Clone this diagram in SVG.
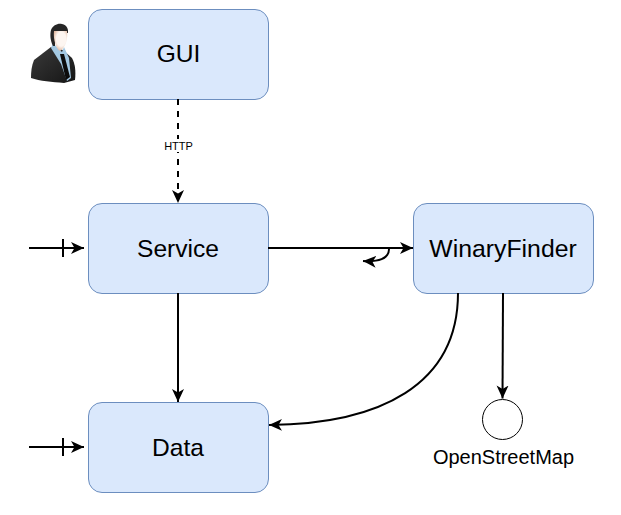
<svg xmlns="http://www.w3.org/2000/svg" width="621" height="515" viewBox="0 0 621 515">
<style>
.box{fill:#dae8fc;stroke:#6c8ebf;stroke-width:1}
.lbl{font-family:"Liberation Sans",Arial,sans-serif;fill:#000;text-anchor:middle}
.c{fill:none;stroke:#000;stroke-width:2}
</style>
<defs>
<marker id="a" markerUnits="userSpaceOnUse" markerWidth="14" markerHeight="13" refX="13" refY="6.500" orient="auto"><path d="M0 0.500L13 6.500L0 12.500L3.500 6.500Z" fill="#000"/></marker>
<radialGradient id="face" cx="0.550" cy="0.400" r="0.650"><stop offset="0.550" stop-color="#fdf6f1"/><stop offset="1" stop-color="#dcae92"/></radialGradient>
<linearGradient id="suit" x1="0" y1="0" x2="1" y2="1"><stop offset="0" stop-color="#3a3a3a"/><stop offset="1" stop-color="#151515"/></linearGradient>
</defs>
<rect width="621" height="515" fill="#fff"/>
<g id="person">
<path d="M51 47L34 60C31.500 66 31 72 31 78C40 81 52 82 64 83L75 80C76 70 75 64 72 58L63 50Z" fill="url(#suit)"/>
<path d="M53 43L51 48L61 64L67 81L71 78L69 58L64 47L62 52Z" fill="#a3c8e2"/>
<path d="M60 54L64 54L70 77L66 80Z" fill="#0c0c0c"/>
<path d="M53 46C50 40 50 34 51 30C53 25 58 23 62 24C67 25 68.500 29 68 33L55 33L55 46Z" fill="#262626"/>
<path d="M54 31L67 31C68 38 66 47 60 51C56 49 53 39 54 31Z" fill="url(#face)"/>
</g>
<g id="gui"><rect class="box" x="88.500" y="9.500" width="180" height="90" rx="13.500"/><text class="lbl" x="178.500" y="62" font-size="24.600">GUI</text></g>
<g id="service"><rect class="box" x="88.500" y="203.500" width="180" height="90" rx="13.500"/><text class="lbl" x="178" y="257" font-size="24.600">Service</text></g>
<g id="data"><rect class="box" x="88.500" y="402.500" width="180" height="90" rx="13.500"/><text class="lbl" x="178" y="456" font-size="24.600">Data</text></g>
<g id="winaryfinder"><rect class="box" x="413.500" y="203.500" width="180" height="90" rx="13.500"/><text class="lbl" x="503" y="257" font-size="24.800">WinaryFinder</text></g>
<g id="openstreetmap"><circle cx="502.500" cy="419.500" r="20" fill="#fff" stroke="#000" stroke-width="1"/><text class="lbl" x="503.500" y="464" font-size="20">OpenStreetMap</text></g>
<g id="connectors">
<path class="c" d="M178 99V203" stroke-dasharray="6 6" marker-end="url(#a)"/>
<rect x="163" y="139" width="31" height="13" fill="#fff"/>
<text class="lbl" x="178.500" y="150" font-size="11">HTTP</text>
<path class="c" d="M268 248H413" marker-end="url(#a)"/>
<path class="c" d="M389 249C389 259 378 262 363 261" marker-end="url(#a)"/>
<path class="c" d="M178 293V402" marker-end="url(#a)"/>
<path class="c" d="M458 293C458 385 380 424 269 425" marker-end="url(#a)"/>
<path class="c" d="M503 293L502.500 398.500" marker-end="url(#a)"/>
<path class="c" d="M29 248H84" marker-end="url(#a)"/>
<path d="M63 239V257" stroke="#000" stroke-width="2"/>
<path class="c" d="M29 447H84" marker-end="url(#a)"/>
<path d="M63 438V456" stroke="#000" stroke-width="2"/>
</g>
</svg>
